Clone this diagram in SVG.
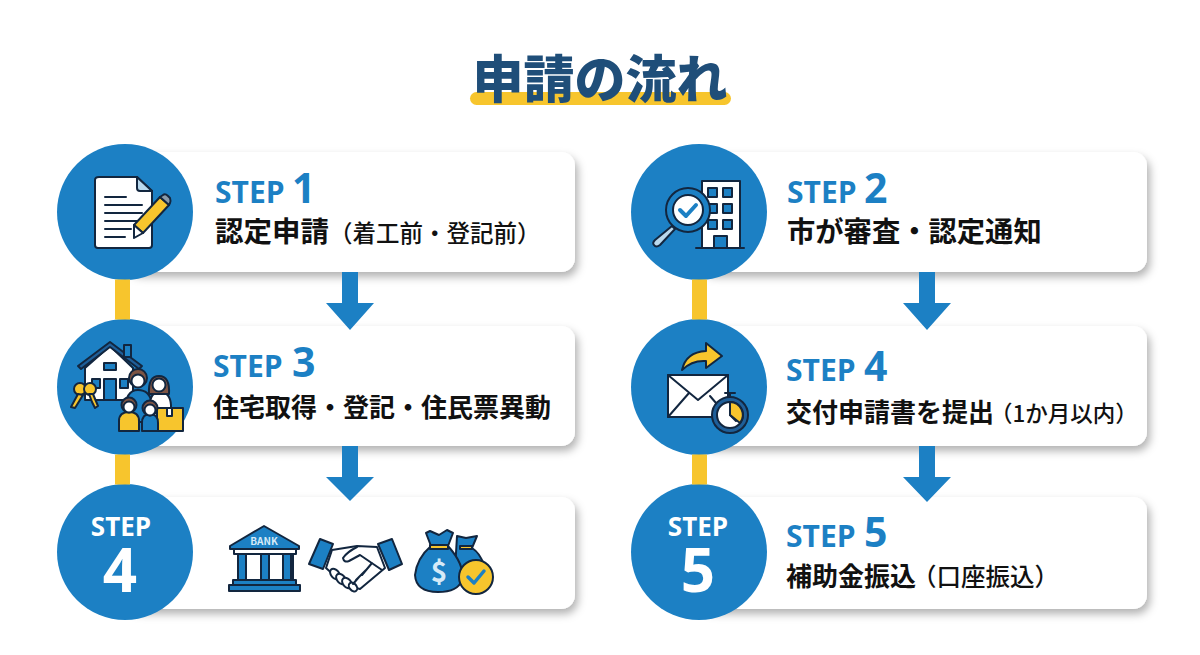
<svg xmlns="http://www.w3.org/2000/svg" width="1200" height="655" viewBox="0 0 1200 655">
<defs>
<filter id="sh" x="-10%" y="-20%" width="120%" height="150%"><feDropShadow dx="3" dy="5" stdDeviation="4.5" flood-color="#000" flood-opacity="0.3"/></filter>
</defs>
<style>
text{font-family:"Noto Sans CJK JP","Noto Sans",sans-serif}
.card{fill:#fff;filter:url(#sh)}
.c{fill:#1c80c4}
.step{font-family:"Open Sans","Noto Sans",sans-serif;font-weight:700;font-size:30px;fill:#1c80c4}
.num{font-family:"Open Sans","Noto Sans",sans-serif;font-weight:700;font-size:41px;fill:#1c80c4}
.lab{font-weight:700;font-size:26px;fill:#111}
.sm{font-weight:500;font-size:23.5px;fill:#111}
.cstep{font-family:"Open Sans","Noto Sans",sans-serif;font-weight:700;font-size:26px;fill:#fff;text-anchor:middle}
.cnum{font-family:"Open Sans","Noto Sans",sans-serif;font-weight:700;font-size:60px;fill:#fff;text-anchor:middle}
.ol{stroke:#12263f;stroke-width:2;stroke-linejoin:round;stroke-linecap:round}
.w{fill:#fff}.y{fill:#f7c52d}.b{fill:#1c80c4}.lb{fill:#b9d9ee}.n{fill:none}.h{fill:#7d5444}
.ln{stroke:#12263f;stroke-width:2;fill:none;stroke-linecap:round}
.yb{fill:#f7c52d}.ar{fill:#1c80c4}
</style>
<rect width="1200" height="655" fill="#fff"/>
<g id="title">
<rect x="470" y="92" width="261" height="13" rx="6.5" fill="#f7c52d"/>
<text x="600" y="98" text-anchor="middle" font-size="51" font-weight="900" fill="#1f4e79">申請の流れ</text>
</g>
<g id="step1">
<rect class="card" x="125" y="152" width="450" height="120" rx="14"/>
<circle class="c" cx="125" cy="212" r="68"/>
<g class="ol">
<path class="w" d="M99 177H137L152 191V245Q152 248 149 248H98Q95 248 95 245V180Q95 177 99 177Z"/>
<path class="lb" d="M137 177V188Q137 191 140 191H152Z"/>
<path class="ln" d="M105 197H126M105 205H142M105 213H142M105 221H138M105 229H131M105 237H125"/>
<path class="y" d="M160 197L169 205L143 233L134 225Z"/>
<path class="w" d="M134 225L143 233L134 238Z"/>
<path fill="#8a9aa8" d="M160 197L163 195Q165 193 168 196L170 198Q171 201 170 203L169 205Z"/>
</g>
<text class="step" x="215" y="203">STEP</text><text class="num" x="292" y="203">1</text>
<text class="lab" x="215" y="242" style="font-size:28.5px">認定申請<tspan class="sm" x="329">（着工前・登記前）</tspan></text>
</g>
<g id="step2">
<rect class="card" x="699" y="152" width="448" height="120" rx="14"/>
<circle class="c" cx="699" cy="212" r="68"/>
<g class="ol">
<rect class="w" x="702" y="181" width="38" height="67"/>
<path class="ln" d="M696 248H744"/>
<g class="b"><rect x="708" y="188" width="9" height="9"/><rect x="723" y="188" width="9" height="9"/><rect x="708" y="204" width="9" height="9"/><rect x="723" y="204" width="9" height="9"/><rect x="708" y="220" width="9" height="9"/><rect x="723" y="220" width="9" height="9"/><rect x="714" y="236" width="13" height="12"/></g>
<path class="lb" d="M672 226L675 229L660 245Q656 248 654 245Q652 243 655 240Z"/>
<circle class="b" cx="688" cy="210" r="22"/><circle class="w" cx="688" cy="210" r="15"/>
<path d="M680 210L686 216L696 205" stroke="#1c80c4" stroke-width="4" fill="none"/>
</g>
<text class="step" x="787" y="203">STEP</text><text class="num" x="864" y="203">2</text>
<text class="lab" x="787" y="242" style="font-size:28.3px">市が審査・認定通知</text>
</g>
<g id="step3">
<rect class="card" x="125" y="326" width="450" height="120" rx="14"/>
<circle class="c" cx="125" cy="387" r="68"/>
<g class="ol">
<path class="w" d="M85 368L110 346L133 368V400H85Z"/>
<path fill="#1f5f99" d="M78 366L110 342L142 366L139 369L110 347L81 369Z"/>
<rect class="b" x="124" y="345" width="7" height="12"/>
<rect class="b" x="104" y="363" width="12" height="7"/>
<rect class="b" x="104" y="379" width="12" height="21"/>
<rect class="b" x="92" y="379" width="8" height="9"/>
<rect class="b" x="120" y="379" width="8" height="9"/>
<g class="y"><circle cx="80" cy="389" r="6"/><path d="M78 394L71 407L75 408L83 395Z"/><circle cx="90" cy="389" r="6"/><path d="M89 394L92 402L95 408L98 406L93 394Z"/></g>
<path class="b" d="M125 412Q125 390 138 390Q150 390 152 404V422H125Z"/>
<circle class="h" cx="138" cy="378" r="9"/><circle class="w" cx="138" cy="381" r="6.5"/>
<path class="w" d="M150 405Q150 392 160 392Q170 392 171 405V420H150Z"/>
<path class="h" d="M149 394Q148 376 159 376Q170 376 169 394Z"/><circle class="w" cx="159" cy="385" r="6.5"/>
<rect class="y" x="157" y="408" width="26" height="23"/><rect class="w" x="167" y="408" width="5" height="8"/>
<path class="y" d="M119 431V421Q119 412 129 412Q139 412 139 421V431Z"/>
<circle class="h" cx="129" cy="405" r="7.5"/><circle class="w" cx="129" cy="407" r="5.5"/>
<path class="b" d="M142 431V423Q142 414 150 414Q158 414 158 423V431Z"/>
<circle class="h" cx="150" cy="408" r="7.5"/><circle class="w" cx="150" cy="410" r="5.5"/>
</g>
<text class="step" x="213" y="377">STEP</text><text class="num" x="292" y="377">3</text>
<text class="lab" x="213" y="417">住宅取得・登記・住民票異動</text>
</g>
<g id="step4a">
<rect class="card" x="699" y="326" width="448" height="120" rx="14"/>
<circle class="c" cx="699" cy="387" r="68"/>
<g class="ol">
<path class="y" d="M682 370Q686 352 706 351V343L722 356L706 368V361Q692 360 682 370Z"/>
<path class="w" d="M668 375H728V417H668Z"/>
<path class="ln" d="M668 375L698 400L728 375M668 417L689 393M728 417L710 396"/>
<circle fill="#1f5f99" cx="730" cy="415" r="18"/><circle class="w" cx="730" cy="415" r="13"/>
<path class="y" d="M730 402A13 13 0 0 1 740 423L730 415Z"/>
<path class="ln" d="M730 405V415L736 421M725 393H735M730 393V397"/>
</g>
<text class="step" x="786" y="381">STEP</text><text class="num" x="864" y="381">4</text>
<text class="lab" x="786" y="422">交付申請書を提出<tspan class="sm" x="990" style="font-size:22.5px">（1か月以内）</tspan></text>
</g>
<g id="step4b">
<rect class="card" x="125" y="497" width="450" height="112" rx="14"/>
<circle class="c" cx="125" cy="552" r="68"/>
<text class="cstep" x="121" y="536">STEP</text><text class="cnum" x="120" y="592">4</text>
<g class="ol">
<path class="b" d="M264 526L299 546V549H230V546Z"/>
<rect class="w" x="234" y="549" width="62" height="5"/>
<rect class="w" x="238" y="554" width="55" height="26"/>
<rect class="b" x="238" y="554" width="8" height="26"/><rect class="b" x="261" y="554" width="8" height="26"/><rect class="b" x="283" y="554" width="8" height="26"/>
<rect class="b" x="233" y="580" width="63" height="5"/><rect class="b" x="229" y="585" width="71" height="6"/>
</g>
<text x="264" y="545" text-anchor="middle" font-family="'Open Sans',sans-serif" font-weight="700" font-size="10" fill="#d5eaf7">BANK</text>
<g class="ol">
<path class="w" d="M332 550L357 546L377 547L385 568L360 589L345 585L326 568Z"/>
<g class="w"><ellipse cx="335" cy="574" rx="6" ry="4" transform="rotate(50 335 574)"/><ellipse cx="341" cy="579" rx="6" ry="4" transform="rotate(50 341 579)"/><ellipse cx="347" cy="583" rx="6" ry="4" transform="rotate(50 347 583)"/><ellipse cx="353" cy="587" rx="5" ry="3.5" transform="rotate(50 353 587)"/></g>
<path class="n" d="M357 547Q347 552 343 558Q344 563 349 561L360 555L382 570M372 563L362 575M366 570L356 580M359 577L353 584"/>
<path class="b" d="M320 539L333 544L323 569L309 564Z"/>
<path class="b" d="M378 544L392 539L402 564L389 570Z"/>
<path class="b" d="M457 536L466 538L477 536L472 548Q480 553 484 565L470 590L455 570Z"/>
<rect class="y" x="460" y="546" width="12" height="3"/>
<path class="b" d="M426 533L430 531L439 535L447 530L453 533L448 546Q465 565 462 580Q458 592 438 592Q416 592 415 575Q417 558 431 546Z"/>
<rect class="y" x="430" y="545" width="18" height="4"/>
<circle class="y" cx="476" cy="577" r="17"/>
<path d="M468 577L474 583L484 571" stroke="#1c80c4" stroke-width="3.5" fill="none"/>
</g>
<text x="439" y="582" text-anchor="middle" font-family="'Open Sans',sans-serif" font-weight="700" font-size="28" fill="#d5eaf7">$</text>
</g>
<g id="step5">
<rect class="card" x="699" y="497" width="448" height="112" rx="14"/>
<circle class="c" cx="699" cy="552" r="68"/>
<text class="cstep" x="698" y="536">STEP</text><text class="cnum" x="698" y="592">5</text>
<text class="step" x="786" y="547">STEP</text><text class="num" x="864" y="547">5</text>
<text class="lab" x="786" y="586">補助金振込<tspan class="sm" x="912" style="font-size:24.5px">（口座振込）</tspan></text>
</g>
<g id="connectors">
<rect class="yb" x="115" y="279.5" width="15" height="40"/>
<rect class="yb" x="115" y="454.5" width="15" height="30"/>
<rect class="yb" x="692" y="279.5" width="15" height="40"/>
<rect class="yb" x="692" y="454.5" width="15" height="30"/>
<path class="ar" d="M342 272H358V303H374L350 330L326 303H342Z"/>
<path class="ar" d="M342 446H358V477H374L350 501L326 477H342Z"/>
<path class="ar" d="M919 272H935V303H951L927 330L903 303H919Z"/>
<path class="ar" d="M919 446H935V477H951L927 502L903 477H919Z"/>
</g>
</svg>
